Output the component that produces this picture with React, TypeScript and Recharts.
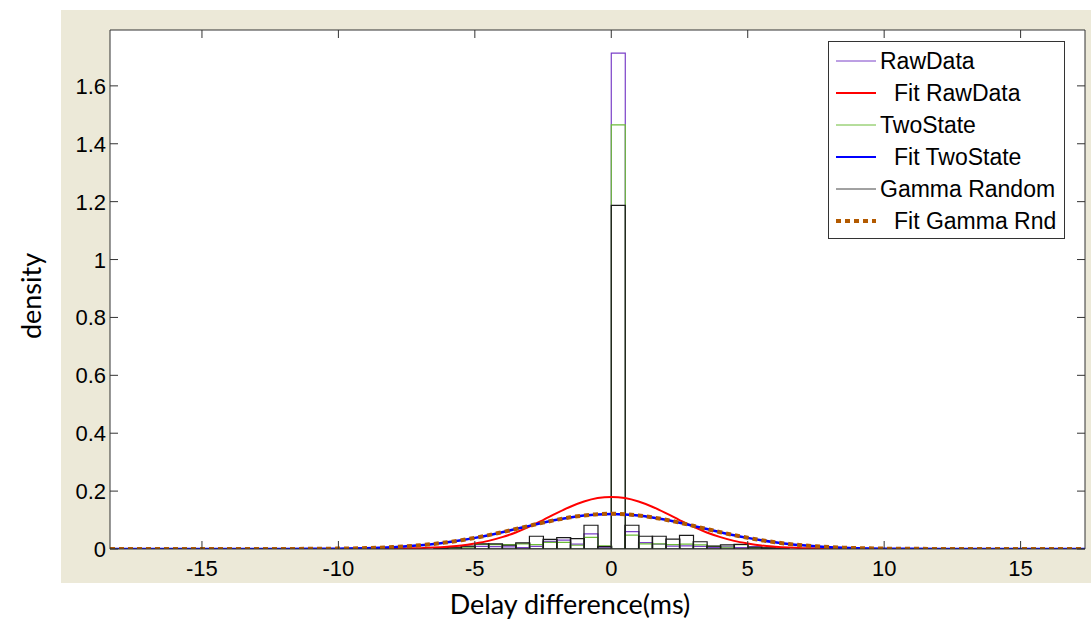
import { ComposedChart, Bar, Line, XAxis, YAxis, Legend, CartesianGrid } from "recharts"

// ─── Data ──────────────────────────────────────────────────────────────────────

// histogram bin centres (bin width 0.5 ms)
const binX = [
  -6.25, -5.75, -5.25, -4.75, -4.25, -3.75, -3.25, -2.75, -2.25, -1.75, -1.25, -0.75, -0.25,
  0.25, 0.75, 1.25, 1.75, 2.25, 2.75, 3.25, 3.75, 4.25, 4.75, 5.25, 5.75, 6.25,
]
const rawHist = [
  0.002, 0.005, 0.008, 0.009, 0.008, 0.007, 0.005, 0.009, 0.026, 0.031, 0.017, 0.052, 0.004,
  1.713, 0.06, 0.022, 0.017, 0.01, 0.011, 0.009, 0.005, 0.007, 0.005, 0.008, 0.004, 0.002,
]
const twoStateHist = [
  0.002, 0.004, 0.006, 0.016, 0.015, 0.015, 0.018, 0.015, 0.023, 0.023, 0.013, 0.04, 0.011,
  1.465, 0.048, 0.018, 0.018, 0.015, 0.017, 0.014, 0.009, 0.006, 0.015, 0.005, 0.003, 0.002,
]
const gammaHist = [
  0.004, 0.006, 0.01, 0.018, 0.018, 0.013, 0.021, 0.044, 0.033, 0.039, 0.036, 0.082, 0.008,
  1.187, 0.082, 0.044, 0.044, 0.034, 0.047, 0.025, 0.01, 0.014, 0.016, 0.006, 0.004, 0.003,
]

// fitted density curves, sampled points
const curveX = [
  -18.37, -14, -12, -11, -10, -9, -8.5, -8, -7.5, -7, -6.5, -6, -5.5, -5, -4.5, -4, -3.5, -3,
  -2.5, -2, -1.5, -1, -0.5, 0, 0.5, 1, 1.5, 2, 2.5, 3, 3.5, 4, 4.5, 5, 5.5, 6, 6.5, 7, 7.5, 8,
  8.5, 9, 10, 11, 12, 14, 17.36,
]
const fitRaw = [
  0, 0, 0, 0, 0, 0.0003, 0.0006, 0.001, 0.002, 0.003, 0.005, 0.008, 0.012, 0.019, 0.028, 0.041,
  0.057, 0.077, 0.1, 0.124, 0.146, 0.164, 0.176, 0.18, 0.176, 0.164, 0.146, 0.124, 0.1, 0.077,
  0.057, 0.041, 0.028, 0.019, 0.012, 0.008, 0.005, 0.003, 0.002, 0.001, 0.0006, 0.0003, 0, 0, 0,
  0, 0,
]
const fitTwoState = [
  0, 0, 0.0002, 0.0005, 0.0012, 0.0029, 0.0044, 0.0064, 0.0091, 0.0128, 0.0174, 0.0232, 0.0302,
  0.0384, 0.0477, 0.058, 0.0689, 0.08, 0.0908, 0.1007, 0.1091, 0.1156, 0.1196, 0.121, 0.1196,
  0.1156, 0.1091, 0.1007, 0.0908, 0.08, 0.0689, 0.058, 0.0477, 0.0384, 0.0302, 0.0232, 0.0174,
  0.0128, 0.0091, 0.0064, 0.0044, 0.0029, 0.0012, 0.0005, 0.0002, 0, 0,
]
const fitGamma = [
  0, 0, 0.0003, 0.0006, 0.0014, 0.0031, 0.0046, 0.0066, 0.0093, 0.013, 0.0176, 0.0234, 0.0304,
  0.0386, 0.0478, 0.0581, 0.069, 0.0801, 0.091, 0.101, 0.1094, 0.116, 0.1202, 0.1218, 0.1202,
  0.116, 0.1094, 0.101, 0.091, 0.0801, 0.069, 0.0581, 0.0478, 0.0386, 0.0304, 0.0234, 0.0176,
  0.013, 0.0093, 0.0066, 0.0046, 0.0031, 0.0014, 0.0006, 0.0003, 0, 0,
]

const xTicks = [-15, -10, -5, 0, 5, 10, 15]
const yTicks = [0, 0.2, 0.4, 0.6, 0.8, 1, 1.2, 1.4, 1.6]
const X_DOMAIN: [number, number] = [-18.37, 17.36]
const Y_DOMAIN: [number, number] = [0, 1.793]

// ─── Styles ────────────────────────────────────────────────────────────────────

const PURPLE = "#7b40c8"
const GREEN = "#6cbc38"
const BLACK = "#1a1a1a"
const RED = "#ff0000"
const BLUE = "#0000ff"
const BROWN = "#b35a00"
const AXIS = "#333333"
const BEIGE = "#ece9d8"
const FONT = "'Liberation Sans', Arial, sans-serif"
const TICK_LEN = 8

const histData = binX.map((x, i) => ({
  x,
  raw: rawHist[i],
  two: twoStateHist[i],
  gamma: gammaHist[i],
}))
const toCurve = (ys: number[]) => curveX.map((x, i) => ({ x, y: ys[i] }))

const legendItems = [
  { name: "RawData", color: PURPLE, width: 1, dash: undefined as string | undefined, fit: false },
  { name: "Fit RawData", color: RED, width: 2, dash: undefined, fit: true },
  { name: "TwoState", color: GREEN, width: 1, dash: undefined, fit: false },
  { name: "Fit TwoState", color: BLUE, width: 2, dash: undefined, fit: true },
  { name: "Gamma Random", color: "#444", width: 1, dash: undefined, fit: false },
  { name: "Fit Gamma Rnd", color: BROWN, width: 4, dash: "5 4", fit: true },
]

// ─── Ticks (MATLAB style: marks point inwards) ────────────────────────────────

function BottomTick({ x, y, payload }: any) {
  return (
    <g>
      <line x1={x} x2={x} y1={y} y2={y - TICK_LEN} stroke={AXIS} />
      <text x={x} y={y + 27} textAnchor="middle" fill="#000" fontSize={22} fontFamily={FONT}>
        {payload.value}
      </text>
    </g>
  )
}

function LeftTick({ x, y, payload }: any) {
  return (
    <g>
      <line x1={x} x2={x + TICK_LEN} y1={y} y2={y} stroke={AXIS} />
      <text x={x - 4} y={y + 8} textAnchor="end" fill="#000" fontSize={22} fontFamily={FONT}>
        {payload.value}
      </text>
    </g>
  )
}

function TopTick({ x, y }: any) {
  return <line x1={x} x2={x} y1={y} y2={y + TICK_LEN} stroke={AXIS} />
}

function RightTick({ x, y }: any) {
  return <line x1={x} x2={x - TICK_LEN} y1={y} y2={y} stroke={AXIS} />
}

function LegendBox() {
  return (
    <div
      style={{
        background: "#fff",
        border: `1px solid ${AXIS}`,
        padding: "3px 10px 1px 0",
        fontFamily: FONT,
        fontSize: 23,
        color: "#000",
      }}
    >
      {legendItems.map(item => (
        <div key={item.name} style={{ display: "flex", alignItems: "center", height: 32 }}>
          <svg width={51} height={10} style={{ flexShrink: 0 }}>
            <line
              x1={7}
              x2={47}
              y1={5}
              y2={5}
              stroke={item.color}
              strokeWidth={item.width}
              strokeDasharray={item.dash}
            />
          </svg>
          <span style={{ paddingLeft: item.fit ? 14 : 0, whiteSpace: "nowrap" }}>{item.name}</span>
        </div>
      ))}
    </div>
  )
}

export default function App() {
  return (
    <div style={{ position: "absolute", left: 0, top: 0, width: 1091, height: 621, background: "#fff", overflow: "hidden" }}>
      <div style={{ position: "absolute", left: 61, top: 10, width: 1030, height: 573, background: BEIGE }} />

      <div style={{ position: "absolute", left: 0, top: 0 }}>
        <ComposedChart
          width={1091}
          height={621}
          data={histData}
          margin={{ top: 29, right: 5, bottom: 42, left: 60 }}
          barCategoryGap={0}
          barGap={0}
        >
          <CartesianGrid xAxisId="main" horizontal={false} vertical={false} fill="#fff" />
          <XAxis xAxisId="h1" dataKey="x" type="number" domain={X_DOMAIN} allowDataOverflow hide height={0} />
          <XAxis xAxisId="h2" dataKey="x" type="number" domain={X_DOMAIN} allowDataOverflow hide height={0} />
          <XAxis xAxisId="h3" dataKey="x" type="number" domain={X_DOMAIN} allowDataOverflow hide height={0} />
          <XAxis
            xAxisId="main"
            dataKey="x"
            type="number"
            domain={X_DOMAIN}
            allowDataOverflow
            ticks={xTicks}
            tick={<BottomTick />}
            tickSize={0}
            tickMargin={0}
            tickLine={false}
            height={30}
            axisLine={{ stroke: AXIS }}
          />
          <XAxis
            xAxisId="top"
            orientation="top"
            dataKey="x"
            type="number"
            domain={X_DOMAIN}
            allowDataOverflow
            ticks={xTicks}
            tick={<TopTick />}
            tickSize={0}
            tickMargin={0}
            tickLine={false}
            height={1}
            axisLine={{ stroke: AXIS }}
          />
          <YAxis
            type="number"
            domain={Y_DOMAIN}
            allowDataOverflow
            ticks={yTicks}
            tick={<LeftTick />}
            tickSize={0}
            tickMargin={0}
            tickLine={false}
            width={50}
            axisLine={{ stroke: AXIS }}
          />
          <YAxis
            yAxisId="right"
            orientation="right"
            type="number"
            domain={Y_DOMAIN}
            allowDataOverflow
            ticks={yTicks}
            tick={<RightTick />}
            tickSize={0}
            tickMargin={0}
            tickLine={false}
            width={1}
            axisLine={{ stroke: AXIS }}
          />

          <Bar xAxisId="h1" dataKey="raw" name="RawData" fill="none" stroke={PURPLE} strokeWidth={1.2} isAnimationActive={false} />
          <Bar xAxisId="h2" dataKey="two" name="TwoState" fill="none" stroke={GREEN} strokeWidth={1.2} isAnimationActive={false} />
          <Bar xAxisId="h3" dataKey="gamma" name="Gamma Random" fill="none" stroke={BLACK} strokeWidth={1.2} isAnimationActive={false} />

          <Line xAxisId="main" data={toCurve(fitRaw)} dataKey="y" name="Fit RawData" type="monotone" stroke={RED} strokeWidth={2} dot={false} isAnimationActive={false} />
          <Line xAxisId="main" data={toCurve(fitTwoState)} dataKey="y" name="Fit TwoState" type="monotone" stroke={BLUE} strokeWidth={2.5} dot={false} isAnimationActive={false} />
          <Line xAxisId="main" data={toCurve(fitGamma)} dataKey="y" name="Fit Gamma Rnd" type="monotone" stroke={BROWN} strokeWidth={4} strokeDasharray="5 4" dot={false} isAnimationActive={false} />

          <Legend
            layout="vertical"
            align="center"
            verticalAlign="middle"
            wrapperStyle={{ left: 828, top: 41, width: 237 }}
            content={() => <LegendBox />}
          />
        </ComposedChart>
      </div>

      <div
        style={{
          position: "absolute",
          left: 31 - 70,
          top: 296 - 18,
          width: 140,
          height: 36,
          lineHeight: "36px",
          textAlign: "center",
          transform: "rotate(-90deg)",
          fontFamily: "Lato, 'Open Sans', sans-serif",
          fontSize: 27,
          color: "#000",
        }}
      >
        density
      </div>
      <div
        style={{
          position: "absolute",
          left: 420,
          top: 586,
          width: 300,
          height: 36,
          lineHeight: "36px",
          textAlign: "center",
          fontFamily: "Lato, 'Open Sans', sans-serif",
          fontSize: 27,
          color: "#000",
        }}
      >
        Delay difference(ms)
      </div>
    </div>
  )
}
